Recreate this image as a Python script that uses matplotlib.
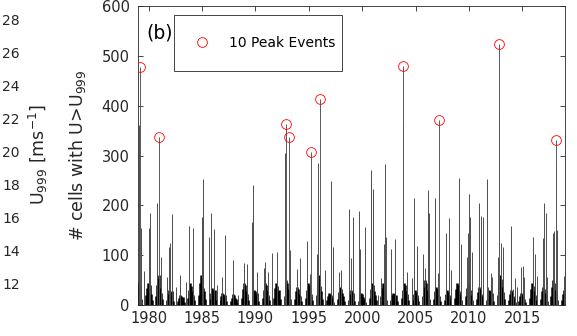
import matplotlib
matplotlib.use("Agg")
import matplotlib.pyplot as plt
from matplotlib.patches import Rectangle

plt.rcParams['font.family'] = ['DejaVu Sans']
plt.rcParams['mathtext.default'] = 'regular'

# ---------------- data ----------------
# 10 peak events (decimal year, number of cells with U > U999)
peak_years = [1979.19, 1981.00, 1992.84, 1993.17, 1995.18, 1996.05,
              2003.80, 2007.22, 2012.82, 2018.13]
peak_counts = [478, 338, 363, 338, 308, 414, 480, 372, 523, 331]

# other visible spikes of the daily series
spike_years = [1979.05, 1979.10, 1979.30, 1979.59, 1980.00, 1980.12, 1980.78,
               1981.18, 1981.69, 1981.88, 1982.00, 1982.16, 1982.56, 1982.93,
               1983.50, 1983.81, 1984.18, 1984.99, 1985.06, 1985.68, 1985.84,
               1986.15, 1986.40, 1986.87, 1987.18, 1987.87, 1988.34, 1988.96,
               1989.18, 1989.71, 1989.80, 1990.12, 1990.80, 1990.90, 1991.18,
               1991.58, 1991.99, 1992.80, 1993.21, 1993.87, 1994.15, 1994.80,
               1995.11, 1995.74, 1995.86, 1996.52, 1997.10, 1997.30, 1997.83,
               1998.04, 1998.79, 1998.98, 1999.17, 1999.67, 1999.82, 2000.24,
               2000.86, 2001.04, 2001.48, 2001.79, 2002.04, 2002.14, 2002.26,
               2002.70, 2003.10, 2003.78, 2004.20, 2004.67, 2004.86, 2005.14,
               2005.70, 2005.86, 2006.14, 2006.29, 2006.85, 2007.10, 2007.85,
               2008.10, 2008.35, 2009.10, 2009.30, 2009.79, 2009.89, 2010.04,
               2010.10, 2010.32, 2010.94, 2011.10, 2011.29, 2011.67, 2011.76,
               2012.04, 2012.16, 2012.70, 2012.80, 2012.98, 2013.16, 2013.91,
               2014.16, 2014.32, 2014.53, 2014.88, 2015.04, 2015.19, 2015.97,
               2016.19, 2016.41, 2016.91, 2017.03, 2017.22, 2017.34, 2017.85,
               2018.00, 2018.12, 2018.28, 2018.91]
spike_counts = [275, 361, 155, 68, 155, 185, 204,
                96, 56, 117, 125, 183, 37, 60,
                47, 159, 155, 177, 253, 137, 184,
                152, 40, 57, 141, 90, 20, 85,
                82, 167, 241, 66, 74, 86, 67,
                104, 107, 305, 110, 72, 94, 128,
                62, 102, 284, 70, 249, 116, 67,
                70, 192, 94, 177, 189, 112, 157,
                271, 233, 20, 54, 122, 283, 136,
                112, 132, 365, 67, 54, 214, 118,
                102, 74, 231, 184, 215, 65, 144,
                175, 70, 254, 122, 96, 144, 223,
                177, 107, 204, 179, 177, 253, 37,
                64, 57, 96, 385, 125, 116, 159,
                33, 54, 37, 76, 78, 56, 137,
                102, 58, 134, 205, 184, 57, 145,
                149, 278, 151, 58]

# low-level winter activity (one row per winter, centred on 1 January)
winter_years = [1979, 1980, 1981, 1982, 1983, 1984, 1985, 1986, 1987, 1988,
                1989, 1990, 1991, 1992, 1993, 1994, 1995, 1996, 1997, 1998,
                1999, 2000, 2001, 2002, 2003, 2004, 2005, 2006, 2007, 2008,
                2009, 2010, 2011, 2012, 2013, 2014, 2015, 2016, 2017, 2018, 2019]
winter_offsets = [-0.27, -0.18, -0.09, 0.0, 0.09, 0.18, 0.27]
winter_counts = [
    [15, 30, 47, 38, 25, 40, 12], [20, 35, 45, 30, 40, 22, 10],
    [18, 40, 55, 60, 35, 25, 12], [10, 22, 30, 26, 18, 28, 8],
    [8, 15, 20, 18, 12, 16, 6], [15, 30, 45, 38, 28, 20, 10],
    [20, 45, 60, 50, 35, 28, 12], [12, 25, 35, 30, 22, 30, 10],
    [10, 18, 25, 22, 15, 20, 8], [8, 15, 22, 20, 14, 12, 6],
    [15, 32, 45, 40, 28, 22, 10], [12, 22, 30, 28, 20, 25, 8],
    [15, 30, 45, 40, 30, 20, 10], [15, 35, 45, 38, 25, 30, 12],
    [18, 38, 50, 45, 32, 25, 12], [12, 28, 37, 33, 22, 18, 8],
    [15, 30, 45, 40, 35, 22, 10], [20, 42, 60, 52, 38, 28, 12],
    [10, 18, 25, 22, 20, 14, 6], [12, 26, 37, 32, 24, 18, 8],
    [10, 22, 30, 27, 18, 24, 8], [8, 18, 25, 22, 16, 12, 6],
    [15, 32, 45, 40, 28, 20, 10], [18, 35, 45, 38, 30, 22, 10],
    [10, 20, 25, 22, 16, 20, 8], [15, 30, 45, 40, 28, 22, 10],
    [10, 22, 30, 26, 20, 15, 8], [18, 36, 50, 44, 30, 25, 12],
    [12, 28, 37, 33, 25, 18, 8], [10, 22, 30, 27, 20, 15, 6],
    [15, 32, 45, 40, 28, 22, 10], [18, 34, 45, 38, 30, 20, 10],
    [12, 26, 37, 33, 22, 18, 8], [10, 22, 30, 28, 20, 25, 8],
    [20, 45, 60, 52, 36, 26, 12], [10, 22, 30, 27, 18, 14, 6],
    [8, 18, 25, 22, 16, 12, 6], [15, 32, 45, 38, 28, 20, 10],
    [12, 28, 37, 33, 24, 18, 8], [18, 36, 50, 44, 30, 24, 10],
    [10, 22, 30, 26, 18, 14, 6],
]

x_ticks = [1980, 1985, 1990, 1995, 2000, 2005, 2010, 2015]
y_ticks = [0, 100, 200, 300, 400, 500, 600]
u999_ticks = [12, 14, 16, 18, 20, 22, 24, 26, 28]

# ---------------- figure ----------------
W, H = 577, 336
fig = plt.figure(figsize=(W / 100, H / 100), dpi=100)
fig.patch.set_facecolor('white')
txt = '#262626'

# ghost axis of the neighbouring panel (U999 scale)
axg = fig.add_axes([24 / W, 31 / H, 0.0005, 299 / H])
axg.set_ylim(10.69, 28.79)
axg.set_yticks(u999_ticks)
axg.set_xticks([])
for s in axg.spines.values():
    s.set_visible(False)
axg.tick_params(axis='y', length=0, pad=3, labelsize=10, labelcolor=txt)
axg.patch.set_alpha(0)
fig.text(50 / W, 1 - 155 / H, 'U$_{999}$ [ms$^{-1}$]', rotation=90,
         ha='right', va='center', fontsize=12.5, color=txt)

# main panel
ax = fig.add_axes([138 / W, 31 / H, 427 / W, 299 / H])

base_t, base_v = [], []
for yr, row in zip(winter_years, winter_counts):
    for off, v in zip(winter_offsets, row):
        base_t.append(yr + off)
        base_v.append(v)
ax.vlines(base_t, 0, base_v, colors='k', linewidth=1.8)
ax.vlines(spike_years, 0, spike_counts, colors='0.3', linewidth=0.7)
ax.vlines(peak_years, 0, peak_counts, colors='0.35', linewidth=0.7)
ax.plot(peak_years, peak_counts, 'o', mfc='none', mec='red', ms=7, mew=0.6,
        label='10 Peak Events', zorder=5)

ax.set_xlim(1979, 2019)
ax.set_ylim(0, 600)
ax.set_xticks(x_ticks)
ax.set_yticks(y_ticks)
for s in ax.spines.values():
    s.set_color(txt)
    s.set_linewidth(0.6)
ax.tick_params(direction='in', top=True, right=True, length=3.5, width=0.6,
               color=txt, labelcolor=txt, labelsize=10.5)
ax.tick_params(axis='y', pad=6)
ax.tick_params(axis='x', pad=4)

ax.set_ylabel('# cells with U>U$_{999}$', fontsize=12.5, color=txt)
ax.yaxis.set_label_coords((88.5 - 138) / 427, 0.5)

ax.text((146 - 138) / 427, (305 - 33) / 299, '(b)', transform=ax.transAxes,
        ha='left', va='center', fontsize=13.5, color='k')

# legend box + entry
ax.add_patch(Rectangle(((174 - 138) / 427, (305 - 71) / 299),
                       (342 - 174) / 427, (71 - 15) / 299,
                       transform=ax.transAxes, facecolor='white',
                       edgecolor=txt, linewidth=0.6, zorder=6))
leg = ax.legend(loc='center left', bbox_to_anchor=((191.3 - 138) / 427, (305 - 43.3) / 299),
                frameon=False, borderpad=0, borderaxespad=0, handlelength=1.5,
                handletextpad=1.22, fontsize=10)
leg.set_zorder(7)
for t in leg.get_texts():
    t.set_color('k')

fig.savefig('out.png', dpi=100, facecolor='white')
